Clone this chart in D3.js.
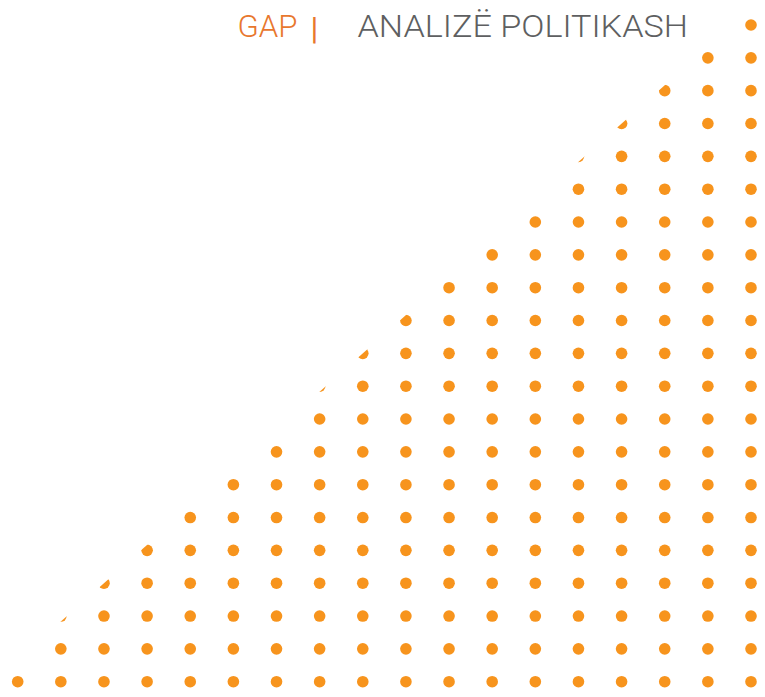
<!DOCTYPE html>
<html>
<head>
<meta charset="utf-8">
<script src="https://cdn.jsdelivr.net/npm/d3@7"></script>
<style>
  html, body { margin: 0; padding: 0; background: #ffffff; }
  svg { display: block; }
</style>
</head>
<body>
<div id="chart"></div>
<script>
// ---- data ----
const columns = d3.range(18);                    // column indices
const columnHeights = [1, 3, 4, 5, 6, 7, 8, 10, 11, 12, 13, 14, 15, 17, 18, 19, 20, 21]; // dots per column (incl. clipped)
const clipLine = { col: 2, row: 3, slope: 7 / 6 }; // diagonal edge, rows per column
const titleBrand = "GAP";
const titleSep = "|";
const titleText = "ANALIZË POLITIKASH";

// ---- layout ----
const W = 765, H = 697;
const svg = d3.select("#chart").append("svg").attr("width", W).attr("height", H);

const x = d3.scaleLinear().domain([0, 17]).range([17.7, 751]);
const y = d3.scaleLinear().domain([0, 20]).range([681.7, 25]);
const r = 5.8;

const lineRow = c => clipLine.row + clipLine.slope * (c - clipLine.col);
const poly = [
  [x(-1), y(lineRow(-1))],
  [x(18), y(lineRow(18))],
  [x(18), H + 20],
  [x(-1), H + 20]
];
svg.append("clipPath").attr("id", "tri")
  .append("polygon").attr("points", poly.map(p => p.join(",")).join(" "));

const dots = [];
columns.forEach(c => {
  d3.range(columnHeights[c]).forEach(rw => dots.push({ c, rw }));
});

svg.append("g").attr("clip-path", "url(#tri)")
  .selectAll("circle").data(dots).join("circle")
  .attr("cx", d => x(d.c))
  .attr("cy", d => y(d.rw))
  .attr("r", r)
  .attr("fill", "#F7941D");

// ---- title ----
const ty = 37;
svg.append("text").attr("x", 237.5).attr("y", ty)
  .attr("font-family", "Roboto").attr("font-weight", 300).attr("font-size", 31)
  .attr("fill", "#E8772E")
  .attr("textLength", 60).attr("lengthAdjust", "spacingAndGlyphs")
  .text(titleBrand);
svg.append("text").attr("x", 310.5).attr("y", ty + 2)
  .attr("font-family", "Roboto").attr("font-weight", 400).attr("font-size", 32)
  .attr("fill", "#E8772E")
  .text(titleSep);
svg.append("text").attr("x", 357.5).attr("y", ty)
  .attr("font-family", "Roboto").attr("font-weight", 300).attr("font-size", 31)
  .attr("fill", "#5E5F61")
  .attr("textLength", 330.5).attr("lengthAdjust", "spacingAndGlyphs")
  .text(titleText);
</script>
</body>
</html>
